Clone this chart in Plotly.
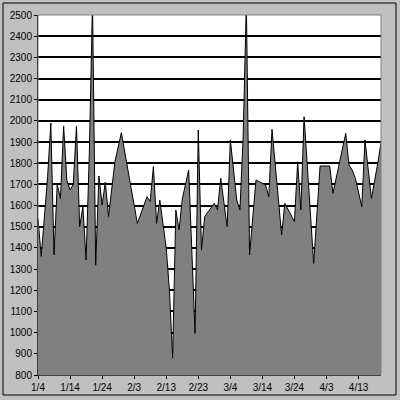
import plotly.graph_objects as go
import pandas as pd

start = pd.Timestamp("2004-01-04")
day_offsets = [0, 1, 3, 4, 5, 6, 7, 8, 9, 10, 11, 12, 13, 14, 15, 16, 17, 18,
               19, 20, 21, 22, 24, 26, 31, 34, 35, 36, 37, 38, 40, 41, 42, 43,
               44, 45, 47, 49, 50, 51, 52, 55, 56, 57, 59, 60, 62, 63, 64, 65,
               66, 68, 71, 72, 73, 76, 77, 80, 81, 82, 83, 86, 88, 91, 92, 96,
               97, 98, 99, 101, 102, 104, 106, 107]
values = [1540, 1360, 1736, 1990, 1367, 1700, 1634, 1976, 1720, 1674, 1700, 1976,
          1500, 1595, 1343, 1839, 2560, 1319, 1740, 1603, 1711, 1548, 1807, 1944,
          1516, 1642, 1620, 1784, 1516, 1626, 1400, 1200, 880, 1579, 1485, 1630,
          1768, 997, 1957, 1390, 1548, 1611, 1580, 1729, 1500, 1910, 1626, 1579,
          1925, 2560, 1367, 1721, 1697, 1642, 1960, 1461, 1611, 1524, 1807, 1579,
          2020, 1327, 1787, 1787, 1658, 1941, 1792, 1768, 1729, 1595, 1910, 1634,
          1800, 1897]
dates = [start + pd.Timedelta(days=d) for d in day_offsets]

y_min, y_max, y_step = 800, 2500, 100
x_start, x_end = "2004-01-04", "2004-04-20"

fig = go.Figure()
fig.add_trace(go.Scatter(
    x=dates, y=values, mode="lines", fill="tozeroy",
    fillcolor="#808080", line=dict(color="black", width=1),
    hoverinfo="skip", cliponaxis=True))

font = dict(family="Liberation Sans, Arial, sans-serif", size=10, color="black")
fig.update_layout(
    width=400, height=400,
    margin=dict(l=38, r=19, t=15, b=25, autoexpand=False),
    paper_bgcolor="#c0c0c0", plot_bgcolor="white",
    showlegend=False, font=font,
    xaxis=dict(type="date", range=[x_start, x_end], tick0=x_start,
               dtick=10 * 86400000, tickformat="%-m/%-d", automargin=False,
               showgrid=False, showline=True, linecolor="black", linewidth=1,
               ticks="outside", ticklen=3, tickcolor="black", zeroline=False),
    yaxis=dict(range=[y_min, y_max], dtick=y_step, tick0=y_min, automargin=False,
               showgrid=True, gridcolor="black", gridwidth=1.5,
               showline=True, linecolor="black", linewidth=1,
               ticks="outside", ticklen=3, tickcolor="black", zeroline=False),
    shapes=[
        dict(type="rect", xref="paper", yref="paper", x0=0, x1=1, y0=0, y1=1,
             line=dict(color="#808080", width=1), layer="above"),
        dict(type="rect", xref="paper", yref="paper",
             x0=(3 - 38) / 343, x1=(396 - 38) / 343,
             y0=(375 - 395) / 360, y1=(375 - 3) / 360,
             line=dict(color="black", width=1)),
    ],
)
fig.write_html("out.html", config={"displayModeBar": False},
               post_script="document.body.style.margin='0';document.body.style.padding='0';")
